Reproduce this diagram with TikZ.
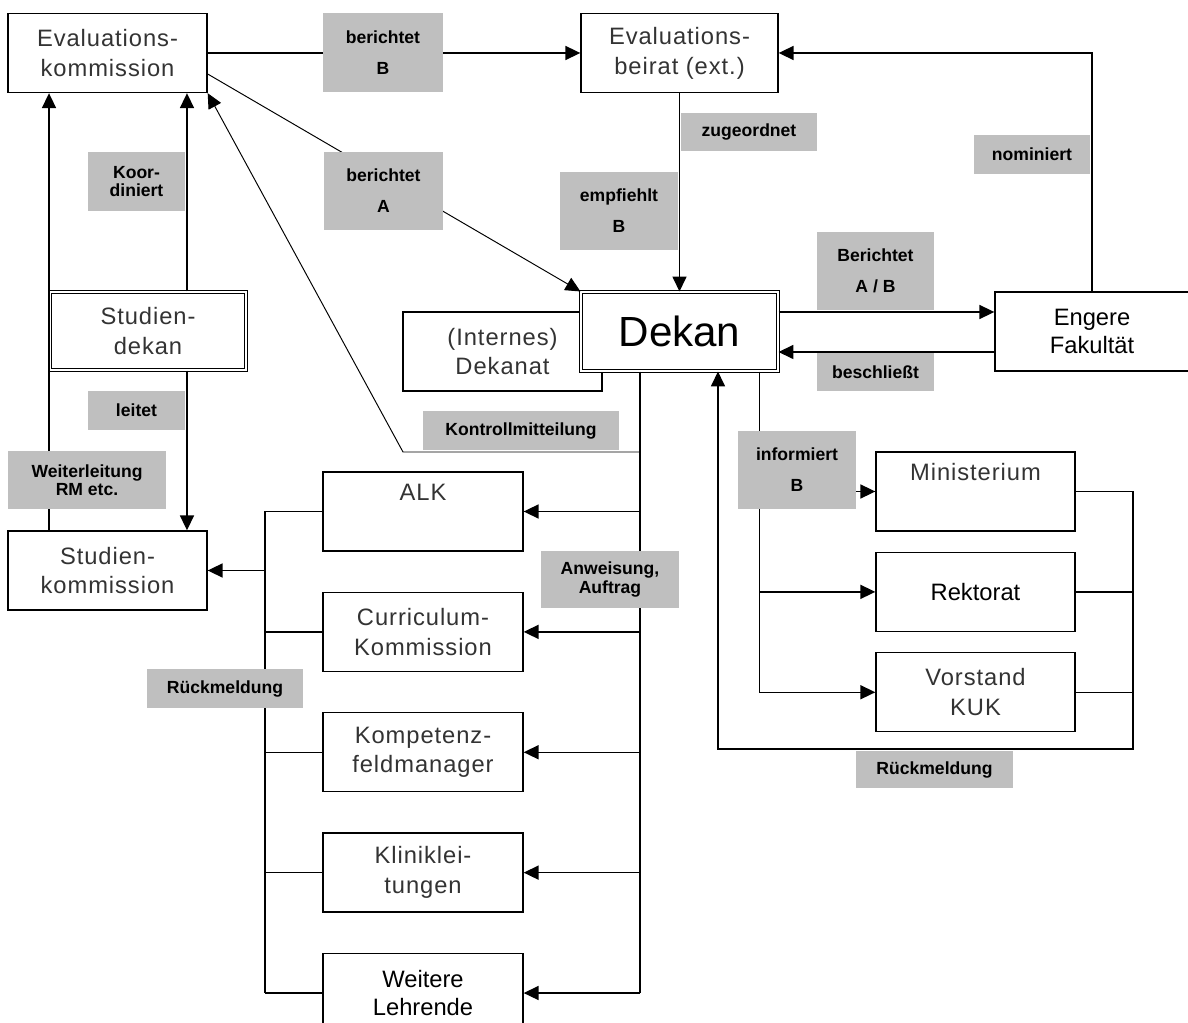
\documentclass[tikz,border=0pt]{standalone}
\usepackage{fontspec}
\setmainfont{Liberation Sans}
\newfontfamily\thinfont[LetterSpace=4]{Liberation Sans}
\usetikzlibrary{arrows.meta,positioning,calc}

\begin{document}
\begin{tikzpicture}[
    x=0.02cm, y=-0.02cm,
    box/.style={rectangle, draw, fill=white, line width=0.8pt, minimum width=3.98cm, minimum height=1.58cm, inner sep=0pt, align=center, font=\thinfont\fontsize{13.5}{17}\selectfont, text=black!80},
    plainbox/.style={box, font=\fontsize{13.5}{15.5}\selectfont, text=black},
    dbox/.style={box, double, double distance=1.2pt, line width=0.6pt},
    tag/.style={rectangle, fill=black!25, inner sep=0pt, align=center, font=\bfseries\fontsize{10}{10.5}\selectfont},
    arrow/.style={-{Triangle[length=8.5pt,width=8pt]}, line width=0.8pt},
    line/.style={line width=0.8pt},
    thin/.style={line width=0.55pt}
]
\useasboundingbox (0,0) rectangle (1188,1023);

% boxes
\node[box] (evalk) at (107.5,53) {Evaluations-\\kommission};
\node[box, minimum width=3.94cm] (evalb) at (679.5,53) {Evaluations-\\beirat (ext.)};
\node[plainbox, minimum width=3.88cm] (fak) at (1092,331.5) {Engere\\Fakultät};
\node[dbox, minimum width=3.92cm, minimum height=1.56cm] (stdek) at (148,331) {Studien-\\dekan};
\node[box] (stkom) at (107.5,570.5) {Studien-\\kommission};
\node[box] (dekanat) at (502.5,351.5) {(Internes)\\Dekanat};
\node[dbox, minimum width=3.94cm, font=\fontsize{24}{28}\selectfont, text=black] (dekan) at (679.5,331.5) {Dekan};

\node[box, minimum width=4cm] (alk) at (423,511.5) {ALK\\\strut};
\node[box, minimum width=4cm, below=0.8cm of alk] (curr) {Curriculum-\\Kommission};
\node[box, minimum width=4cm, below=0.8cm of curr] (komp) {Kompetenz-\\feldmanager};
\node[box, minimum width=4cm, below=0.8cm of komp] (klinik) {Kliniklei-\\tungen};
\node[plainbox, minimum width=4cm, below=0.8cm of klinik] (weitere) {Weitere\\Lehrende};

\node[box] (mini) at (975.5,491.5) {Ministerium\\\strut};
\node[plainbox, below=0.4cm of mini] (rekt) {Rektorat};
\node[box, below=0.4cm of rekt] (vorst) {Vorstand\\KUK};

% top connectors
\draw[arrow] (evalk) -- (evalb);
\draw[arrow, thin] ([yshift=-0.42cm]evalk.east) -- (dekan.north west);
\draw[arrow] (evalb) -- (dekan);
\draw[arrow] (fak.north) |- (evalb.east);
\draw[arrow] ([yshift=0.39cm]dekan.east) -- ([yshift=0.39cm]fak.west);
\draw[arrow] ([yshift=-0.41cm]fak.west) -- ([yshift=-0.41cm]dekan.east);

% Studiendekan
\draw[arrow] ([xshift=0.78cm]stdek.north) -- ([xshift=0.78cm]stdek.north |- evalk.south);
\draw[arrow] ([xshift=0.78cm]stdek.south) -- ([xshift=0.78cm]stdek.south |- stkom.north);
\draw[arrow] ([xshift=-1.17cm]stkom.north) -- ([xshift=-1.17cm]stkom.north |- evalk.south);

% Anweisung
\coordinate (anw) at ([xshift=-0.79cm]dekan.south);
\coordinate (kbend) at (403,452);
\draw[line] (anw) -- (anw |- weitere);
\foreach \n in {alk,curr,komp,klinik,weitere}
    \draw[arrow] (anw |- \n) -- (\n.east);
\draw[arrow, thin] (anw |- kbend) -- (kbend) -- (evalk.south east);

% Rueckmeldung links
\coordinate (rml) at (265,0);
\draw[line] (rml |- alk) -- (rml |- weitere);
\foreach \n in {alk,curr,komp,klinik,weitere}
    \draw[line] (\n.west) -- (rml |- \n);
\draw[arrow] (rml |- stkom) -- (stkom.east);

% informiert
\coordinate (inf) at ([xshift=1.6cm]dekan.south);
\draw[line] (inf) -- (inf |- vorst);
\foreach \n in {mini,rekt,vorst}
    \draw[arrow] (inf |- \n) -- (\n.west);
\coordinate (rmr) at (1133,749);
\foreach \n in {mini,rekt,vorst}
    \draw[line] (\n.east) -- (rmr |- \n);
\draw[arrow] (rmr |- mini) -- (rmr) -- ([xshift=0.77cm]dekan.south |- rmr) -- ([xshift=0.77cm]dekan.south);

% labels
\node[tag, minimum width=2.4cm, minimum height=1.58cm] (berB) at (383,52.5) {berichtet\\[7pt]B};
\node[tag, minimum width=2.38cm, minimum height=1.56cm] (berA) at (383.5,191) {berichtet\\[7pt]A};
\node[tag, minimum width=1.94cm, minimum height=1.18cm] (koord) at (136.5,181.5) {Koor-\\diniert};
\node[tag, minimum width=2.72cm, minimum height=0.76cm] (zuge) at (749,132) {zugeordnet};
\node[tag, minimum width=2.36cm, minimum height=1.56cm] (empf) at (619,211) {empfiehlt\\[7pt]B};
\node[tag, minimum width=2.34cm, minimum height=0.78cm] (nomi) at (1032,154.5) {nominiert};
\node[tag, minimum width=2.34cm, minimum height=1.56cm] (berAB) at (875.5,271) {Berichtet\\[7pt]A / B};
\node[tag, minimum width=2.34cm, minimum height=0.76cm] (beschl) at (875.5,372) {beschließt};
\node[tag, minimum width=1.94cm, minimum height=0.78cm] (leitet) at (136.5,410.5) {leitet};
\node[tag, minimum width=3.16cm, minimum height=1.16cm] (weiterl) at (87,480) {Weiterleitung\\RM etc.};
\node[tag, minimum width=3.92cm, minimum height=0.78cm] (kontr) at (521,430.5) {Kontrollmitteilung};
\node[tag, minimum width=2.76cm, minimum height=1.14cm] (anweis) at (610,579.5) {Anweisung,\\Auftrag};
\node[tag, minimum width=3.12cm, minimum height=0.78cm] (rueckl) at (225,688.5) {Rückmeldung};
\node[tag, minimum width=2.36cm, minimum height=1.56cm] (infB) at (797,470) {informiert\\[7pt]B};
\node[tag, minimum width=3.14cm, minimum height=0.76cm] (rueckr) at (934.5,769.5) {Rückmeldung};
\end{tikzpicture}
\end{document}
